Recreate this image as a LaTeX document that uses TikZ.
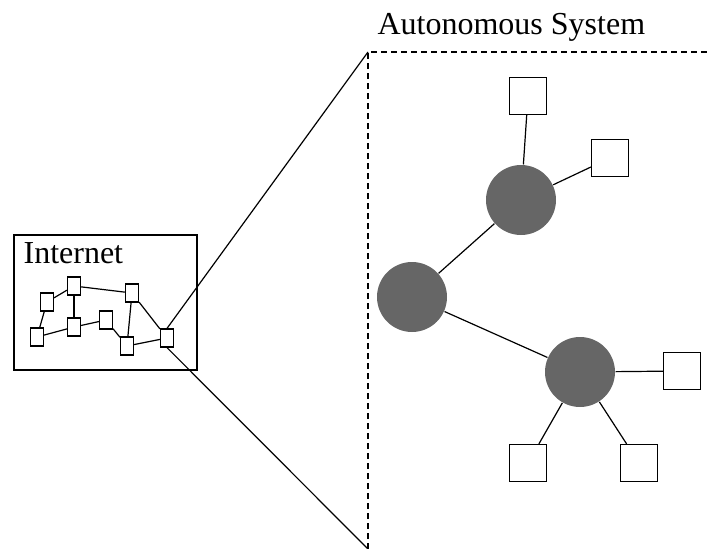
\documentclass[tikz,border=0pt]{standalone}
\usepackage{fontspec}
\setmainfont{Liberation Serif}
\usepackage{tikz}
\usetikzlibrary{positioning}
\tikzset{
  router/.style  = {circle, fill=black!60, minimum size=70pt, inner sep=0pt},
  host/.style    = {rectangle, draw, fill=white, minimum size=37pt, inner sep=0pt},
  tinybox/.style = {rectangle, draw, fill=white,
                    minimum width=13pt, minimum height=18pt, inner sep=0pt},
  caption/.style = {anchor=base west, inner sep=0pt,
                    font=\fontsize{32}{38}\selectfont},
  link/.style    = {line width=1.2pt},
  asedge/.style  = {line width=1.2pt, dash pattern=on 6pt off 4pt},
}

\begin{document}
\begin{tikzpicture}[x=1pt, y=-1pt, line width=1.2pt]

  \useasboundingbox (0,0) rectangle (710,549);

  % ── Internet overview ──────────────────────────────────────────────────────
  \node[draw, minimum width=183pt, minimum height=135pt, inner sep=0pt]
        (inet) at (105.5,302.5) {};
  \node[caption] (inetlbl) at (23,263) {Internet};

  \node[tinybox] (n1) at (47,302) {};
  \node[tinybox] (n2) at (74,286) {};
  \node[tinybox] (n3) at (132,293) {};
  \node[tinybox] (n4) at (37,337) {};
  \node[tinybox] (n5) at (74,327) {};
  \node[tinybox] (n6) at (106,320) {};
  \node[tinybox] (n7) at (127,346) {};
  \node[tinybox] (n8) at (167,338) {};

  \draw[link] (n1) -- (n2);
  \draw[link] (n1) -- (n4);
  \draw[link] (n2) -- (n5);
  \draw[link] (n2) -- (n3);
  \draw[link] (n4) -- (n5);
  \draw[link] (n5) -- (n6);
  \draw[link] (n6) -- (n7);
  \draw[link] (n3) -- (n7);
  \draw[link] (n3) -- (n8);
  \draw[link] (n7) -- (n8);

  % ── Zoom lines to the autonomous system ────────────────────────────────────
  \coordinate (ascorner) at (368,52);
  \coordinate (asbottom) at (368,549);
  \coordinate (asright)  at (710,52);

  \draw[link] (n8.north) -- (ascorner);
  \draw[link] (n8.south) -- (asbottom);
  \draw[asedge] (asbottom) -- (ascorner) -- (asright);

  \node[caption] (aslbl) at (377,34) {Autonomous System};

  % ── Autonomous system ──────────────────────────────────────────────────────
  \node[router] (r1) at (521,200) {};
  \node[router] (r2) at (412,297) {};
  \node[router] (r3) at (580,372) {};

  \node[host] (h1) at (528,96)  {};
  \node[host] (h2) at (610,158) {};
  \node[host] (h3) at (682,371) {};
  \node[host] (h4) at (528,463) {};
  \node[host] (h5) at (639,463) {};

  \draw[link] (r1) -- (h1);
  \draw[link] (r1) -- (h2);
  \draw[link] (r1) -- (r2);
  \draw[link] (r2) -- (r3);
  \draw[link] (r3) -- (h3);
  \draw[link] (r3) -- (h4);
  \draw[link] (r3) -- (h5);

\end{tikzpicture}
\end{document}
